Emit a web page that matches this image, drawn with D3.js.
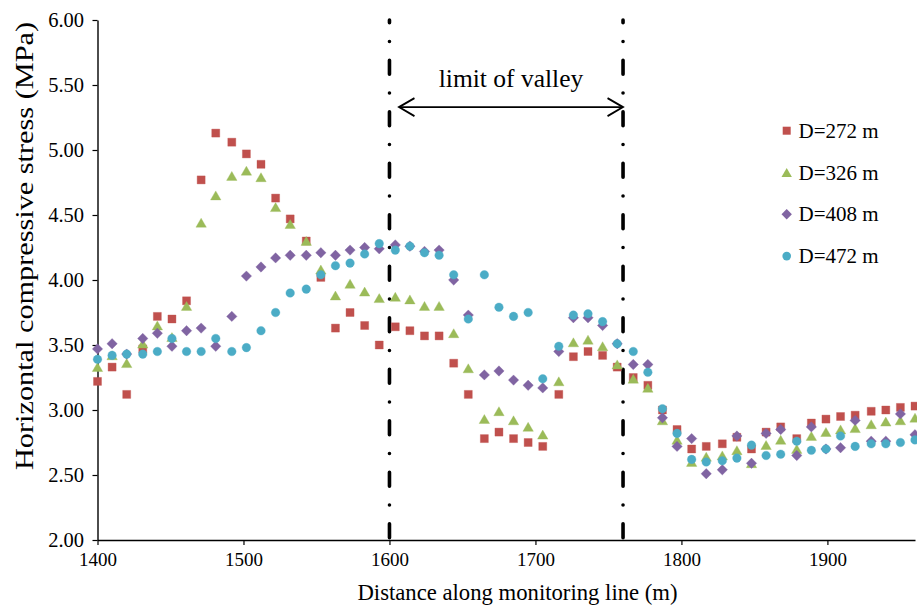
<!DOCTYPE html>
<html><head><meta charset="utf-8">
<script src="https://cdn.jsdelivr.net/npm/d3@7"></script>
<style>
html,body{margin:0;padding:0;background:#fff;}
svg{display:block;}
</style></head>
<body>
<svg id="chart" width="917" height="605"></svg>
<script>
// ---- data ----
const distances = [1400,1410,1420,1431,1441,1451,1461,1471,1481,1492,1502,1512,1522,1532,1543,1553,1563,1573,1583,1593,1604,1614,1624,1634,1644,1654,1665,1675,1685,1695,1705,1716,1726,1736,1746,1756,1767,1777,1787,1797,1807,1817,1828,1838,1848,1858,1868,1879,1889,1899,1909,1919,1930,1940,1950,1960];
const d272 = [3.22,3.33,3.12,3.47,3.72,3.70,3.84,4.77,5.13,5.06,4.97,4.89,4.63,4.47,4.30,4.02,3.63,3.75,3.65,3.50,3.64,3.61,3.57,3.57,3.36,3.12,2.78,2.83,2.78,2.75,2.72,3.12,3.41,3.45,3.42,3.33,3.25,3.19,3.00,2.85,2.70,2.72,2.74,2.79,2.70,2.83,2.87,2.78,2.90,2.93,2.95,2.96,2.99,3.00,3.02,3.03];
const d326 = [3.33,3.42,3.36,3.51,3.65,3.56,3.80,4.44,4.65,4.80,4.84,4.79,4.56,4.43,4.30,4.08,3.88,3.97,3.91,3.86,3.87,3.85,3.80,3.80,3.59,3.32,2.93,2.99,2.92,2.87,2.81,3.22,3.52,3.54,3.49,3.35,3.24,3.17,2.92,2.77,2.60,2.64,2.65,2.69,2.59,2.73,2.77,2.70,2.80,2.83,2.85,2.86,2.89,2.91,2.92,2.94];
const d408 = [3.47,3.51,3.43,3.55,3.59,3.49,3.61,3.63,3.49,3.72,4.03,4.10,4.17,4.19,4.19,4.21,4.19,4.23,4.25,4.24,4.27,4.26,4.22,4.23,4.00,3.73,3.27,3.30,3.23,3.19,3.17,3.45,3.71,3.71,3.65,3.51,3.35,3.35,2.94,2.72,2.78,2.51,2.54,2.80,2.59,2.82,2.85,2.65,2.87,2.70,2.71,2.92,2.76,2.76,2.97,2.81];
const d472 = [3.39,3.42,3.43,3.43,3.45,3.55,3.45,3.45,3.55,3.45,3.48,3.61,3.75,3.90,3.93,4.04,4.11,4.13,4.20,4.28,4.23,4.26,4.21,4.19,4.04,3.70,4.04,3.79,3.72,3.75,3.24,3.49,3.73,3.74,3.68,3.51,3.45,3.29,3.01,2.82,2.62,2.60,2.61,2.63,2.73,2.65,2.66,2.76,2.69,2.70,2.80,2.72,2.74,2.74,2.75,2.77];
const seriesNames = ["D=272 m","D=326 m","D=408 m","D=472 m"];
const seriesColors = ["#C0504D","#9BBB59","#8064A2","#4BACC6"];
const seriesShapes = ["square","triangle","diamond","circle"];
const xTicks = [1400,1500,1600,1700,1800,1900];
const yTicks = [2.0,2.5,3.0,3.5,4.0,4.5,5.0,5.5,6.0];
const valleyLimits = [1600,1760];
const annotationText = "limit of valley";
const annotationLevel = 5.33;
const xTitle = "Distance along monitoring line (m)";
const yTitle = "Horizontal compressive stress (MPa)";

// ---- chart ----
const FONT = "'Liberation Serif', 'Times New Roman', Tinos, serif";
const svg = d3.select("#chart");
const x = d3.scaleLinear().domain([1400,1960]).range([97.5,915]);
const y = d3.scaleLinear().domain([2,6]).range([540,20]);

function shapePath(shape){
  switch(shape){
    case "square": return "M-4,-4H4V4H-4Z";
    case "triangle": return "M0,-4.6L5.2,4.4H-5.2Z";
    case "diamond": return "M0,-5.2L5.2,0L0,5.2L-5.2,0Z";
    case "circle": return "M4.3,0A4.3,4.3 0 1,1 -4.3,0A4.3,4.3 0 1,1 4.3,0Z";
  }
}

// axes
const gx = svg.append("g").attr("transform","translate(0,540)")
  .call(d3.axisBottom(x).tickValues(xTicks).tickSize(5).tickSizeOuter(0).tickPadding(8).tickFormat(d3.format("d")));
const gy = svg.append("g").attr("transform","translate(97.5,0)")
  .call(d3.axisLeft(y).tickValues(yTicks).tickSize(5).tickSizeOuter(0).tickPadding(8.5).tickFormat(d3.format(".2f")));
[gx,gy].forEach(g=>{
  g.attr("font-family",null);
  g.select(".domain").attr("stroke","#000").attr("stroke-width",1.4);
  g.selectAll(".tick line").attr("stroke","#000").attr("stroke-width",1.2);
  g.selectAll(".tick text").style("font-family",FONT).attr("fill","#000");
});
gx.selectAll(".tick text").style("font-size","19px");
gy.selectAll(".tick text").style("font-size","20.5px");

// valley limit lines
svg.append("g").selectAll("line").data(valleyLimits).join("line")
  .attr("x1",d=>x(d)).attr("x2",d=>x(d))
  .attr("y1",y(6)).attr("y2",y(2))
  .attr("stroke","#000").attr("stroke-width",3.6)
  .attr("stroke-linecap","round")
  .attr("stroke-dasharray","14 18.75 0 18.75")
  .attr("stroke-dashoffset",11.25);

// series
const allSeries = [d272,d326,d408,d472];
allSeries.forEach((vals,i)=>{
  svg.append("g").selectAll("path").data(vals).join("path")
    .attr("d",shapePath(seriesShapes[i]))
    .attr("transform",(v,j)=>`translate(${x(distances[j])},${y(v)})`)
    .attr("fill",seriesColors[i])
    .attr("stroke",seriesColors[i]).attr("stroke-opacity",0.35).attr("stroke-width",1);
});

// arrow annotation
const ay = y(annotationLevel);
const ax1 = x(valleyLimits[0]) + 9.5, ax2 = x(valleyLimits[1]);
const ag = svg.append("g").attr("stroke","#000").attr("stroke-width",1.8).attr("fill","none");
ag.append("line").attr("x1",ax1).attr("x2",ax2).attr("y1",ay).attr("y2",ay);
ag.append("path").attr("d",`M${ax1+15.5},${ay-9}L${ax1},${ay}L${ax1+15.5},${ay+9}`);
ag.append("path").attr("d",`M${ax2-15.5},${ay-9}L${ax2},${ay}L${ax2-15.5},${ay+9}`);
svg.append("text").attr("x",(ax1+ax2)/2).attr("y",ay-20)
  .attr("text-anchor","middle").style("font-family",FONT).style("font-size","25.5px").attr("fill","#000").text(annotationText);

// legend
const lg = svg.append("g");
seriesNames.forEach((name,i)=>{
  const ly = 130.7 + i*41.8;
  lg.append("path").attr("d",shapePath(seriesShapes[i]))
    .attr("transform",`translate(786.7,${ly})`).attr("fill",seriesColors[i]);
  lg.append("text").attr("x",798.5).attr("y",ly+7).style("font-family",FONT).style("font-size","21px").attr("fill","#000").text(name);
});

// titles
svg.append("text").attr("x",517.5).attr("y",600).attr("text-anchor","middle")
  .style("font-family",FONT).style("font-size","22.7px").attr("fill","#000").text(xTitle);
svg.append("text").attr("transform","translate(33,246) rotate(-90)")
  .attr("text-anchor","middle").style("font-family",FONT).style("font-size","25px").attr("fill","#000")
  .attr("textLength",448).attr("lengthAdjust","spacingAndGlyphs").text(yTitle);
</script>
</body></html>
